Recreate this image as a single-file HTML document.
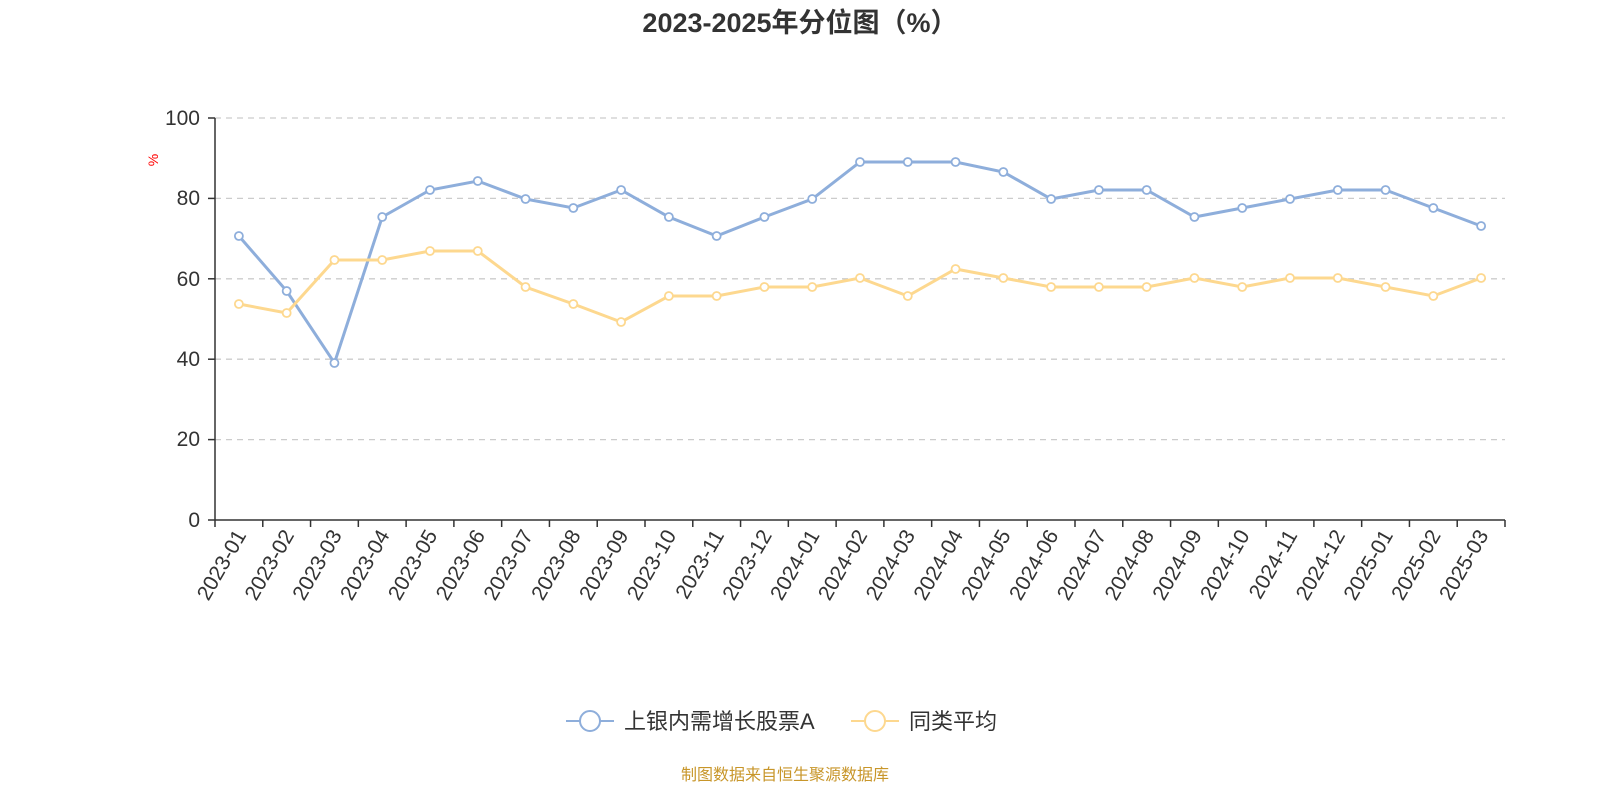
<!DOCTYPE html>
<html><head><meta charset="utf-8"><style>
html,body{margin:0;padding:0;background:#fff;}
svg{display:block;font-family:"Liberation Sans","Noto Sans CJK SC",sans-serif;}
</style></head><body>
<svg width="1600" height="800" viewBox="0 0 1600 800" xmlns="http://www.w3.org/2000/svg">
<text x="800" y="32" text-anchor="middle" font-size="27" font-weight="bold" fill="#333">2023-2025年分位图（%）</text>
<g stroke="#ccc" stroke-dasharray="6,5" stroke-width="1.3">
<line x1="215" x2="1505" y1="118" y2="118"/><line x1="215" x2="1505" y1="198.4" y2="198.4"/>
<line x1="215" x2="1505" y1="278.8" y2="278.8"/><line x1="215" x2="1505" y1="359.2" y2="359.2"/>
<line x1="215" x2="1505" y1="439.6" y2="439.6"/>
</g>
<g font-size="21" fill="#333" text-anchor="end">
<text x="200" y="125">100</text><text x="200" y="205">80</text><text x="200" y="286">60</text>
<text x="200" y="366">40</text><text x="200" y="446">20</text><text x="200" y="527">0</text>
</g>
<g stroke="#333" stroke-width="1.5">
<line x1="215" x2="215" y1="118" y2="520"/>
<line x1="208" x2="215" y1="118" y2="118"/><line x1="208" x2="215" y1="198.4" y2="198.4"/>
<line x1="208" x2="215" y1="278.8" y2="278.8"/><line x1="208" x2="215" y1="359.2" y2="359.2"/>
<line x1="208" x2="215" y1="439.6" y2="439.6"/><line x1="208" x2="215" y1="520" y2="520"/>
<line x1="215" x2="1505" y1="520" y2="520"/>
</g>
<text x="158" y="160" font-size="14" fill="red" transform="rotate(-90 158 160)" text-anchor="middle">%</text>
<g id="ticks" stroke="#333" stroke-width="1.5"></g>
<g id="labels" font-size="21" fill="#333"></g>
<polyline id="lb" fill="none" stroke="#8eaedb" stroke-width="3"/>
<polyline id="ly" fill="none" stroke="#fdd88f" stroke-width="3"/>
<g id="pts"></g>
<g>
<line x1="566" x2="614" y1="721" y2="721" stroke="#8eaedb" stroke-width="2"/>
<circle cx="590" cy="721" r="10" fill="#fff" stroke="#8eaedb" stroke-width="2"/>
<text x="624" y="729" font-size="22" fill="#333">上银内需增长股票A</text>
<line x1="851" x2="899" y1="721" y2="721" stroke="#fdd88f" stroke-width="2"/>
<circle cx="875" cy="721" r="10" fill="#fff" stroke="#fdd88f" stroke-width="2"/>
<text x="909" y="729" font-size="22" fill="#333">同类平均</text>
</g>
<text x="785" y="780" font-size="16" fill="#c8962a" text-anchor="middle">制图数据来自恒生聚源数据库</text>
<script>
var ns="http://www.w3.org/2000/svg";
var b=[236,291,363,217,190,181,199,208,190,217,236,217,199,162,162,162,172,199,190,190,217,208,199,190,190,208,226];
var y=[304,313,260,260,251,251,287,304,322,296,296,287,287,278,296,269,278,287,287,287,278,287,278,278,287,296,278];
var step=1290/27,t=document.getElementById("ticks"),L=document.getElementById("labels"),P=document.getElementById("pts");
var lb=[],ly=[];
for(var i=0;i<=27;i++){var x=215+i*step;var l=document.createElementNS(ns,"line");l.setAttribute("x1",x);l.setAttribute("x2",x);l.setAttribute("y1",520);l.setAttribute("y2",527);t.appendChild(l);}
for(var i=0;i<27;i++){
 var x=215+(i+0.5)*step;lb.push(x+","+b[i]);ly.push(x+","+y[i]);
 var yr=2023+Math.floor(i/12),m=i%12+1;
 var tx=document.createElementNS(ns,"text");tx.textContent=yr+"-"+(m<10?"0":"")+m;
 tx.setAttribute("x",x+8);tx.setAttribute("y",535);tx.setAttribute("text-anchor","end");
 tx.setAttribute("transform","rotate(-60 "+(x+8)+" 535)");L.appendChild(tx);
}
document.getElementById("lb").setAttribute("points",lb.join(" "));
document.getElementById("ly").setAttribute("points",ly.join(" "));
for(var i=0;i<27;i++){var x=215+(i+0.5)*step;
 [[b[i],"#8eaedb"],[y[i],"#fdd88f"]].forEach(function(p){var c=document.createElementNS(ns,"circle");c.setAttribute("cx",x);c.setAttribute("cy",p[0]);c.setAttribute("r",4);c.setAttribute("fill","#fff");c.setAttribute("stroke",p[1]);c.setAttribute("stroke-width",1.8);P.appendChild(c);});}
</script>
</svg>
</body></html>
